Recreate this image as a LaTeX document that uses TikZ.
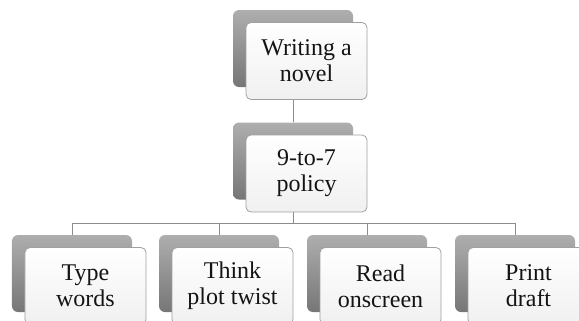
\documentclass[tikz,border=0pt]{standalone}
\usepackage{fontspec}
\setmainfont{Liberation Serif}
\definecolor{grayTop}{HTML}{AEAEAE}
\definecolor{grayBot}{HTML}{767676}
\definecolor{frameGray}{HTML}{A0A0A0}
\definecolor{frontBot}{HTML}{F0F0F0}
\definecolor{lineGray}{HTML}{8C8C8C}
\definecolor{textBlack}{HTML}{141414}
\begin{document}
\begin{tikzpicture}[x=1bp,y=-1bp,
  back/.style={minimum width=120bp,minimum height=77bp,rounded corners=6bp,
    top color=grayTop,bottom color=grayBot,draw=none,inner sep=0pt},
  front/.style={minimum width=121bp,minimum height=77bp,rounded corners=5bp,
    draw=frameGray,line width=0.8bp,top color=white,bottom color=frontBot,
    align=center,font=\fontsize{24bp}{26bp}\selectfont,text=textBlack,inner sep=0pt},
  link/.style={draw=lineGray,line width=1bp}]
\useasboundingbox (0,0) rectangle (579,320);
\clip (0,0) rectangle (579,320);
% back boxes
\node[back] (g1) at (293,48.5) {};
\node[back] (g2) at (293,161) {};
\node[back] (g3) at (72,273.5) {};
\node[back] (g4) at (219,273.5) {};
\node[back] (g5) at (367,273.5) {};
\node[back] (g6) at (515,273.5) {};
% connectors
\coordinate (bus) at (293,223);
\draw[link] (g1.south) -- (g2.north);
\draw[link] (g2.south) -- (bus);
\draw[link] (g3.north) |- (bus);
\draw[link] (g4.north) |- (bus);
\draw[link] (g5.north) |- (bus);
\draw[link] (g6.north) |- (bus);
% front boxes
\node[front] (f1) at (306.5,61) {Writing a\\novel};
\node[front] (f2) at (306.5,173.5) {9-to-7\\policy};
\node[front] (f3) at (85.5,286) {Type\\words};
\node[front] (f4) at (232.5,286) {Think\\plot twist};
\node[front] (f5) at (380.5,286) {Read\\onscreen};
\node[front] (f6) at (528.5,286) {Print\\draft};
\end{tikzpicture}
\end{document}
